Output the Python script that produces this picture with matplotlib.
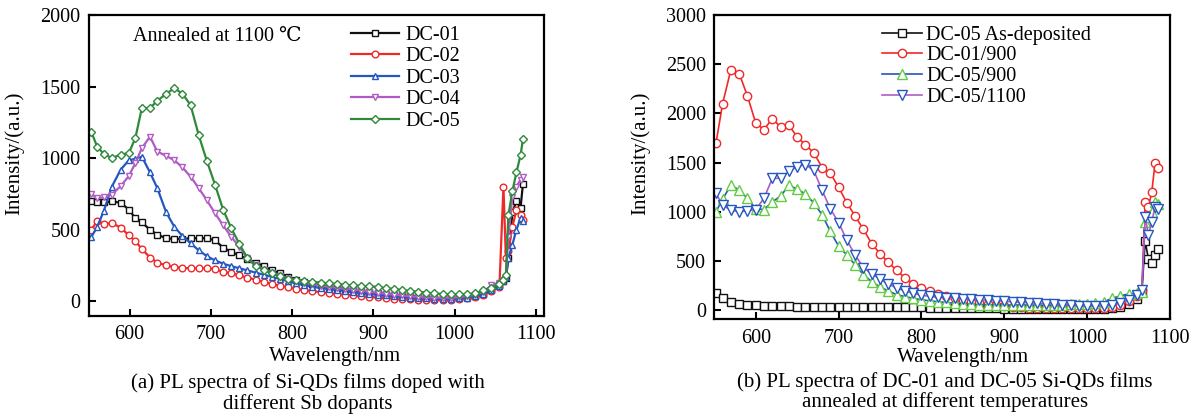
#!/usr/bin/env python3
"""PL spectra of Sb-doped Si-QDs films: (a) dopant series, (b) annealing series."""

import matplotlib
matplotlib.use('Agg')
import matplotlib.pyplot as plt

plt.rcParams['font.family'] = ['Liberation Serif', 'DejaVu Serif']

# ---- panel (a): annealed at 1100 C, different Sb dopants ----
wl_a = [553, 560, 568, 578, 589, 599, 607, 615, 625, 634, 645, 655, 665, 675,
        685, 695, 705, 715, 725, 735, 745, 755, 765, 775, 785, 795, 805, 815,
        825, 835, 845, 855, 865, 875, 885, 895, 905, 915, 925, 935, 945, 955,
        965, 975, 985, 995, 1005, 1015, 1025, 1035, 1045, 1055, 1060, 1063,
        1066, 1071, 1076, 1081, 1084]
dc01 = [700, 690, 690, 697, 688, 640, 580, 550, 500, 465, 440, 435, 435, 440,
        440, 440, 425, 375, 345, 320, 295, 270, 245, 215, 195, 170, 150, 135,
        120, 110, 100, 92, 84, 76, 68, 62, 56, 50, 45, 40, 35, 30,
        26, 22, 20, 20, 22, 28, 35, 50, 75, 110, 140, 160,
        300, 620, 700, 650, 820]
dc02 = [500, 560, 540, 545, 515, 460, 420, 365, 305, 270, 250, 238, 233, 230,
        230, 230, 225, 205, 195, 180, 165, 150, 135, 120, 108, 97, 88, 78,
        70, 63, 56, 50, 45, 40, 35, 30, 26, 22, 18, 15, 12, 10,
        8, 8, 8, 10, 15, 20, 30, 45, 70, 100, 800, 300,
        350, 520, 640, 600, 570]
dc03 = [450, 520, 628, 800, 920, 985, 995, 1010, 900, 790, 620, 520, 455, 405,
        355, 315, 285, 262, 245, 230, 215, 200, 185, 170, 155, 140, 125, 112,
        100, 92, 85, 78, 70, 62, 56, 50, 45, 40, 35, 30, 25, 22,
        20, 18, 18, 18, 20, 25, 35, 50, 75, 105, 140, 170,
        300, 395, 500, 580, 560]
dc04 = [750, 720, 725, 745, 805, 875, 965, 1070, 1150, 1046, 1015, 985, 935, 870,
        790, 705, 615, 530, 450, 380, 300, 255, 220, 195, 175, 155, 140, 128,
        118, 108, 100, 93, 86, 80, 72, 65, 58, 52, 46, 40, 35, 30,
        27, 25, 25, 25, 28, 35, 45, 65, 110, 130, 150, 170,
        450, 730, 800, 850, 870]
dc05 = [1180, 1080, 1030, 1000, 1025, 1035, 1140, 1350, 1350, 1400, 1450, 1488, 1450, 1370,
        1160, 980, 815, 640, 510, 400, 300, 245, 220, 195, 175, 158, 150, 142,
        135, 130, 125, 120, 115, 110, 107, 104, 100, 92, 85, 78, 72, 66,
        60, 55, 50, 48, 47, 48, 55, 75, 95, 120, 150, 180,
        600, 770, 900, 1020, 1130]

# ---- panel (b): DC-01 and DC-05 at different temperatures ----
wl_b = [552, 560, 570, 580, 590, 600, 610, 620, 630, 640, 650, 660, 670, 680,
        690, 700, 710, 720, 730, 740, 750, 760, 770, 780, 790, 800, 810, 820,
        830, 840, 850, 860, 870, 880, 890, 900, 910, 920, 930, 940, 950, 960,
        970, 980, 990, 1000, 1010, 1020, 1030, 1040, 1050, 1060, 1066, 1070,
        1074, 1078, 1082, 1086]
dc05_dep = [170, 120, 80, 60, 55, 50, 42, 40, 40, 38, 35, 33, 32, 31,
            30, 30, 30, 30, 30, 30, 30, 30, 30, 30, 28, 28, 27, 27,
            26, 25, 25, 24, 22, 20, 18, 16, 14, 12, 10, 10, 8, 8,
            8, 8, 8, 8, 10, 12, 18, 30, 60, 110, 180, 700,
            520, 480, 560, 620]
dc01_900 = [1700, 2100, 2446, 2405, 2175, 1900, 1836, 1948, 1860, 1880, 1760, 1680, 1600, 1450,
            1390, 1250, 1090, 955, 820, 675, 575, 485, 405, 330, 270, 228, 193, 165,
            140, 120, 100, 85, 72, 60, 50, 42, 35, 30, 25, 22, 20, 18,
            18, 18, 18, 18, 20, 25, 35, 55, 90, 140, 200, 1100,
            1050, 1200, 1500, 1450]
dc05_900 = [1000, 1130, 1270, 1220, 1135, 1030, 1023, 1100, 1160, 1270, 1230, 1180, 1090, 970,
            800, 650, 560, 460, 360, 290, 235, 195, 158, 138, 120, 105, 95, 85,
            78, 70, 65, 60, 57, 54, 52, 50, 50, 50, 50, 50, 50, 52,
            55, 58, 62, 66, 72, 85, 120, 145, 165, 175, 180, 900,
            950, 1000, 1100, 1080]
dc05_1100 = [1186, 1067, 1016, 1000, 1010, 1023, 1140, 1340, 1340, 1410, 1460, 1480, 1420, 1220,
             1030, 890, 710, 560, 430, 370, 315, 265, 225, 195, 170, 152, 140, 130,
             125, 120, 115, 110, 105, 100, 95, 90, 85, 80, 75, 70, 65, 60,
             55, 50, 45, 42, 42, 45, 55, 70, 100, 150, 200, 950,
             760, 900, 1050, 1030]

BLACK = '#111111'
RED = '#f02828'
BLUE = '#2456c0'
PURPLE = '#b05cc4'
GREEN = '#2e8a3a'
LIGHT_GREEN = '#62cc44'

TICK_SIZE = 14.5
LABEL_SIZE = 15


def style_axes(ax, ylim, yticks, xlim):
    ax.set_xlim(*xlim)
    ax.set_ylim(*ylim)
    ax.set_xticks([600, 700, 800, 900, 1000, 1100])
    ax.set_yticks(yticks)
    ax.tick_params(direction='in', length=5, width=1.5, labelsize=TICK_SIZE)
    ax.tick_params(axis='x', pad=7)
    ax.tick_params(axis='y', pad=6)
    for spine in ax.spines.values():
        spine.set_linewidth(1.6)
    ax.set_xlabel('Wavelength/nm', fontsize=LABEL_SIZE, va='center')
    ax.set_ylabel('Intensity/(a.u.)', fontsize=LABEL_SIZE, va='center')


fig = plt.figure(figsize=(12, 4.18), dpi=100)
ax_a = fig.add_axes([0.0742, 0.2452, 0.3792, 0.7189])
ax_b = fig.add_axes([0.5953, 0.2368, 0.3797, 0.7273])

# panel (a)
series_a = [
    ('DC-01', dc01, BLACK, BLACK, 's', 4.5),
    ('DC-02', dc02, RED, RED, 'o', 4.8),
    ('DC-03', dc03, BLUE, BLUE, '^', 5.0),
    ('DC-04', dc04, PURPLE, PURPLE, 'v', 5.0),
    ('DC-05', dc05, GREEN, GREEN, 'D', 4.2),
]
for label, values, lc, mc, marker, ms in series_a:
    ax_a.plot(wl_a, values, color=lc, lw=1.6, marker=marker, ms=ms,
              mfc='white', mec=mc, mew=1.0, label=label)

style_axes(ax_a, (-100, 2000), [0, 500, 1000, 1500, 2000], (550, 1110))
ax_a.xaxis.set_label_coords(0.54, -0.138)
ax_a.yaxis.set_label_coords(-0.163, 0.54)
ax_a.text(0.0967, 0.93, 'Annealed at 1100 ℃', transform=ax_a.transAxes,
          fontsize=TICK_SIZE, va='center', ha='left')
ax_a.legend(loc='upper left', bbox_to_anchor=(0.553, 0.998), frameon=False,
            fontsize=TICK_SIZE, borderpad=0, handlelength=2.4,
            handletextpad=0.3, labelspacing=0.12)

# panel (b)
series_b = [
    ('DC-05 As-deposited', dc05_dep, BLACK, BLACK, 's', 5.5),
    ('DC-01/900', dc01_900, RED, RED, 'o', 6.0),
    ('DC-05/900', dc05_900, BLUE, LIGHT_GREEN, '^', 7.0),
    ('DC-05/1100', dc05_1100, PURPLE, BLUE, 'v', 7.0),
]
for label, values, lc, mc, marker, ms in series_b:
    ax_b.plot(wl_b, values, color=lc, lw=1.2, marker=marker, ms=ms,
              mfc='white', mec=mc, mew=1.0, label=label)

style_axes(ax_b, (-90, 3000), [0, 500, 1000, 1500, 2000, 2500, 3000], (550, 1100))
ax_b.xaxis.set_label_coords(0.546, -0.128)
ax_b.yaxis.set_label_coords(-0.162, 0.546)
ax_b.legend(loc='upper left', bbox_to_anchor=(0.346, 0.998), frameon=False,
            fontsize=TICK_SIZE, borderpad=0, handlelength=2.0,
            handletextpad=0.2, labelspacing=0.08)

# captions under each panel
fig.text(307.5 / 1200, 1 - 383 / 418, '(a) PL spectra of Si-QDs films doped with',
         ha='center', va='center', fontsize=LABEL_SIZE)
fig.text(307.5 / 1200, 1 - 404 / 418, 'different Sb dopants',
         ha='center', va='center', fontsize=LABEL_SIZE)
fig.text(945 / 1200, 1 - 382 / 418, '(b) PL spectra of DC-01 and DC-05 Si-QDs films',
         ha='center', va='center', fontsize=LABEL_SIZE)
fig.text(945 / 1200, 1 - 402 / 418, 'annealed at different temperatures',
         ha='center', va='center', fontsize=LABEL_SIZE)

fig.savefig('out.png', dpi=100)
